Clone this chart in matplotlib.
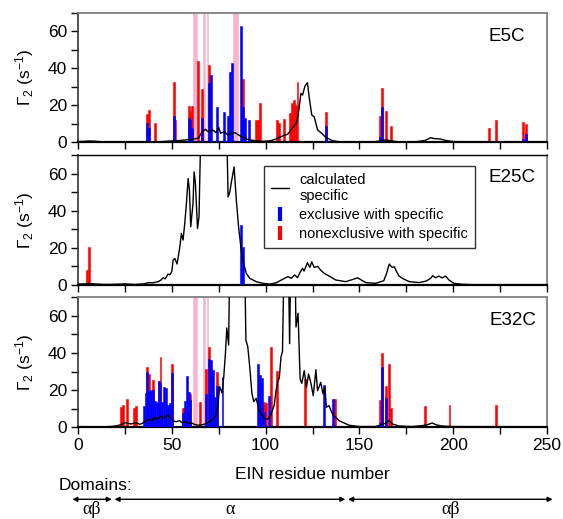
import matplotlib
matplotlib.use('Agg')
import matplotlib.pyplot as plt
from matplotlib.lines import Line2D
from matplotlib.ticker import MultipleLocator
import matplotlib.transforms as mtransforms

plt.rcParams['font.family'] = ['Liberation Sans', 'DejaVu Sans']
plt.rcParams['mathtext.default'] = 'regular'

# ---------------- data ----------------
panel_names = ['E5C', 'E25C', 'E32C']

# calculated specific Gamma2 (line)
e5c_line_res = [0, 3, 6, 9, 12, 20, 30, 40, 45, 49, 53, 57.6, 61, 63, 64.5, 65.6, 66.5, 68, 69, 70, 71.8,
                73.6, 75, 76, 78, 79.8, 81.6, 83.7, 85.5, 87.8, 90.4, 93, 98, 101, 103.7, 106.4, 109,
                111.7, 113.5, 115.2, 116.5, 117.5, 118.8, 119.7, 121, 122.3, 123.2, 124.6, 125.9, 127.7,
                130.3, 132, 135.6, 139, 150, 158, 162, 164, 166, 170, 180, 185, 188, 190, 193, 196, 200,
                210, 250]
e5c_line_val = [0.4, 0.5, 0.7, 0.6, 0.3, 0.2, 0.2, 0.2, 0.4, 0.7, 0.9, 1.3, 1.6, 2.0, 2.5, 4.9, 6.0, 7.0,
                6.0, 5.8, 6.7, 5.2, 8.1, 4.9, 5.8, 4.0, 4.9, 5.2, 4.0, 2.7, 1.6, 1.1, 0.5, 0.7, 1.1, 2.2,
                3.4, 4.3, 6.7, 8.8, 10.6, 15.6, 26.4, 25.5, 30.4, 32.2, 24.6, 14.7, 13.8, 6.7, 4.5, 2.7,
                0.9, 0.3, 0.2, 0.3, 0.9, 1.3, 1.0, 0.3, 0.3, 1.0, 2.5, 2.0, 1.8, 1.0, 0.4, 0.2, 0.2]

e25c_line_res = [0, 3, 6, 10, 15, 20, 25, 30, 35, 37.4, 40, 42.7, 44, 45.4, 46.5, 48, 49, 50, 50.7, 51.6,
                 52.8, 54.3, 55.1, 56, 56.9, 57.8, 58.7, 59.4, 60.1, 61.3, 61.9, 62.6, 63.7, 64.5, 65.8,
                 79, 80, 80.9, 81.7, 83.2, 84.4, 85.6, 87, 88.3, 89.7, 91.5, 95, 98.6, 102.2, 105.7, 108.4,
                 110.1, 111.9, 113.7, 115.5, 117, 118.5, 119.7, 120.5, 121.5, 122.3, 123.6, 124.6, 125.9,
                 127.7, 129.4, 131.2, 133.9, 137.4, 142.7, 146.5, 149, 151, 153.4, 158.7, 163, 164.5,
                 165.9, 167.4, 168.6, 169.8, 171.1, 172.9, 176.6, 181.9, 185.5, 188, 189, 190.6, 192.4,
                 194.1, 196, 197.7, 200.4, 204.8, 210, 250]
e25c_line_val = [0.5, 0.6, 0.8, 0.5, 0.3, 0.4, 0.6, 0.3, 0.6, 1.2, 1.2, 1.8, 2.5, 3.9, 3.3, 5.9, 5.5, 7.2,
                 13.4, 14.3, 11.3, 20.6, 27.8, 24.2, 33.1, 43.9, 57.3, 51.0, 31.3, 43.9, 60.9, 54.6, 30.4,
                 36.7, 100, 100, 47.4, 50.0, 55.0, 63.6, 45.6, 31.3, 18.8, 11.6, 6.3, 3.6, 1.8, 0.9, 0.5,
                 1.2, 2.7, 3.6, 4.5, 3.6, 5.4, 4.0, 7.0, 9.0, 7.5, 10.0, 12.0, 9.5, 12.5, 9.5, 10.0, 8.0,
                 6.3, 4.8, 2.7, 1.8, 3.0, 3.9, 2.7, 1.3, 0.9, 2.3, 6.3, 11.3, 9.5, 9.8, 7.2, 4.8, 3.6, 1.8,
                 1.3, 2.1, 3.6, 5.0, 3.9, 4.8, 3.8, 4.8, 2.7, 0.9, 0.4, 0.2, 0.2]

e32c_line_res = [0, 5, 10, 15, 18, 20, 22, 23, 24, 25.7, 27, 28.4, 30, 31, 32.8, 34, 35.5, 37, 38, 39.5,
                 40.8, 41.8, 42.6, 44.3, 45.5, 46.5, 47.9, 49.6, 51, 52.3, 54, 55.5, 57.6, 59, 60.5, 62,
                 63.5, 64.7, 66.5, 68.3, 70, 71.8, 73, 73.6, 74.5, 75.5, 76.8, 77.7, 78.6, 79.3, 80.3, 81,
                 88.7, 89.5, 90.5, 91.6, 92.7, 93.7, 95, 96.5, 97.5, 99.3, 101, 102.8, 104.6, 105.5, 106.4,
                 107.3, 108.2, 109, 110, 112, 112.8, 113.5, 115.5, 116.2, 117.3, 118.4, 119.3, 120.6, 121.8,
                 122.9, 124.1, 125.4, 126.8, 127.7, 129.4, 130.6, 131.6, 132.4, 133.8, 135.6, 137.4, 139.2,
                 141, 144.5, 149.8, 158.7, 164, 165.8, 167.6, 171, 178, 183.5, 186, 188.8, 191, 194, 199.5,
                 250]
e32c_line_val = [0.4, 0.3, 0.2, 0.3, 0.5, 0.7, 1.2, 1.5, 2.0, 2.5, 2.0, 1.8, 2.3, 2.5, 1.6, 2.0, 3.0, 3.8,
                 4.3, 3.6, 5.4, 4.2, 4.8, 6.1, 4.8, 5.6, 6.6, 4.8, 3.4, 3.0, 3.6, 2.5, 3.0, 2.1, 2.4, 1.6,
                 1.2, 1.2, 1.4, 2.1, 3.0, 4.3, 5.5, 7.2, 11.1, 21.9, 18.5, 27.3, 40.0, 53.5, 44.3, 100,
                 100, 47.0, 43.4, 31.8, 18.3, 13.8, 15.6, 9.0, 7.5, 4.8, 4.3, 6.6, 12.0, 19.2, 24.6, 26.4,
                 38.0, 40.8, 100, 100, 45.0, 100, 100, 54.0, 61.4, 26.0, 23.7, 30.5, 21.5, 28.7, 24.0, 17.0,
                 31.0, 19.7, 24.2, 18.0, 21.5, 10.8, 11.7, 7.2, 5.4, 3.6, 2.7, 1.1, 0.4, 0.4, 2.2, 3.6, 1.8,
                 0.7, 0.4, 0.9, 1.3, 2.3, 1.3, 0.7, 0.4, 0.3]

# measured bars: residue, nonexclusive (red) and exclusive (blue) Gamma2
e5c_bar_res = [37, 38, 41, 51, 52, 59, 60, 61, 64, 66, 70, 71, 74, 78, 80, 81, 82, 87, 88, 89, 91, 95, 96,
               97, 106, 107, 110, 113, 114, 115, 116, 117, 132, 161, 162, 164, 167, 219, 223, 237, 239]
e5c_nonexcl = [15.3, 17.6, 10.4, 32.8, 12.2, 19.6, 17.1, 19.6, 43.9, 28.8, 41.7, 0, 0, 0, 0, 0, 0, 0, 34.2,
               0, 0, 12.2, 12.2, 21.2, 12.2, 10.4, 12.6, 16.0, 21.4, 23.0, 20.1, 32.6, 16.5, 14.4, 29.5,
               17.1, 9.0, 7.9, 12.2, 11.2, 10.1]
e5c_excl = [10.3, 7.9, 0, 14.2, 0, 13.3, 12.2, 7.9, 0, 13.3, 31.8, 36.3, 19.0, 16.2, 14.2, 38.1, 43.0, 62.8,
            19.1, 13.1, 12.2, 0, 0, 0, 0, 0, 0, 0, 0, 0, 0, 0, 9.0, 3.0, 19.2, 0, 0, 0, 0, 2.0, 4.7]

e25c_bar_res = [5, 6, 87, 88]
e25c_nonexcl = [8.1, 20.4, 0, 0]
e25c_excl = [0, 0, 32.2, 20.4]

e32c_bar_res = [23, 24, 26, 30, 31, 35, 36, 37, 38, 39, 40, 41, 42, 43, 44, 45, 46, 47, 48, 49, 50, 56, 57,
                58, 59, 60, 65, 68, 70, 71, 72, 73, 74, 77, 96, 97, 98, 99, 100, 102, 103, 106, 121, 131,
                136, 137, 161, 162, 164, 166, 167, 185, 198, 223]
e32c_nonexcl = [11.1, 12.0, 15.5, 10.4, 11.6, 0, 0, 32.7, 28.5, 0, 25.5, 0, 0, 25.1, 38.0, 0, 0, 0, 0, 0,
                34.1, 10.6, 0, 0, 0, 18.0, 13.8, 31.4, 43.0, 0, 0, 0, 30.0, 0, 0, 0, 0, 13.5, 13.0, 0,
                43.2, 30.3, 26.0, 0, 0, 15.0, 14.9, 40.2, 22.4, 34.1, 10.2, 11.7, 12.2, 12.2]
e32c_excl = [0, 0, 0, 0, 0, 11.5, 18.5, 30.0, 19.5, 20.0, 20.0, 14.0, 13.8, 25.0, 23.7, 13.8, 21.9, 21.2,
             12.0, 12.9, 29.0, 7.5, 14.2, 27.6, 19.0, 14.7, 0, 17.8, 37.0, 36.0, 31.0, 16.5, 22.0, 27.0,
             34.0, 28.0, 26.5, 8.4, 0, 16.9, 0, 0, 0, 22.6, 15.0, 0, 2.3, 32.7, 15.8, 0, 0, 0, 0, 0]

# residues shaded pink
e5c_pink = [62, 63, 67, 69, 83, 84, 85]
e25c_pink = []
e32c_pink = [62, 63, 67, 69]

# domains along the sequence
domain_start = [-3, 19.5, 144]
domain_end = [18, 142.5, 253]
domain_label = ['αβ', 'α', 'αβ']

legend_labels = ['calculated\nspecific', 'exclusive with specific', 'nonexclusive with specific']

# ---------------- figure ----------------
W, H = 563, 519
fig = plt.figure(figsize=(W / 100, H / 100), dpi=100)

left = 78 / W
width = (547 - 78) / W
panel_px = [(12.7, 142.3), (155.0, 285.0), (297.3, 427.3)]

lines = [(e5c_line_res, e5c_line_val), (e25c_line_res, e25c_line_val), (e32c_line_res, e32c_line_val)]
bars = [(e5c_bar_res, e5c_nonexcl, e5c_excl), (e25c_bar_res, e25c_nonexcl, e25c_excl),
        (e32c_bar_res, e32c_nonexcl, e32c_excl)]
pinks = [e5c_pink, e25c_pink, e32c_pink]
label_pos = [(525, 40.7), (536, 181.7), (536, 325.0)]

RED = '#ff0000'
BLUE = '#0000ff'
PINK = '#f6b3cd'
FS = 12.5

axes = []
for i, (top, bot) in enumerate(panel_px):
    ax = fig.add_axes([left, 1 - bot / H, width, (bot - top) / H])
    axes.append(ax)
    for r in pinks[i]:
        ax.axvspan(r - 0.5, r + 0.5, facecolor=PINK, edgecolor=PINK, lw=0.4, zorder=1)
    br, red, blue = bars[i]
    ax.bar(br, red, width=1.0, color=RED, edgecolor=RED, lw=0.4, zorder=2)
    ax.bar(br, blue, width=1.0, color=BLUE, edgecolor=BLUE, lw=0.4, zorder=3)
    lr, lv = lines[i]
    ax.plot(lr, lv, color='black', lw=1.0, zorder=4)
    ax.set_xlim(0, 250)
    ax.set_ylim(0, 70)
    ax.xaxis.set_major_locator(MultipleLocator(50))
    ax.xaxis.set_minor_locator(MultipleLocator(25))
    ax.yaxis.set_major_locator(MultipleLocator(20))
    ax.yaxis.set_minor_locator(MultipleLocator(10))
    ax.tick_params(which='both', direction='out', length=5, width=1.0, labelsize=FS, pad=3,
                   top=False, right=False)
    if i < 2:
        ax.tick_params(labelbottom=False)
    ax.spines['top'].set_color('#808080')
    ax.spines['right'].set_color('#808080')
    ax.spines['top'].set_linewidth(1.3)
    ax.spines['right'].set_linewidth(1.3)
    ax.spines['left'].set_color('#333333')
    ax.spines['left'].set_linewidth(1.2)
    ax.spines['bottom'].set_linewidth(1.6)
    ax.set_ylabel('Γ$_2$ (s$^{-1}$)', fontsize=FS)
    ax.yaxis.set_label_coords(-0.09, 0.5)
    lx, ly = label_pos[i]
    ax.text((lx - 78) / 469, (bot - ly) / (bot - top), panel_names[i], transform=ax.transAxes,
            ha='right', va='baseline', fontsize=13.5)

axes[1].spines['top'].set_color('black')
axes[1].spines['top'].set_linewidth(1.0)

# legend
handles = [Line2D([], [], color='black', lw=1.0),
           Line2D([], [], color=BLUE, marker='|', ls='none', markersize=10, markeredgewidth=3),
           Line2D([], [], color=RED, marker='|', ls='none', markersize=10, markeredgewidth=3)]
leg = axes[1].legend(handles, legend_labels, loc='upper left', bbox_to_anchor=(0.397, 0.915),
                     fontsize=10.5, frameon=True, fancybox=False, edgecolor='black',
                     handlelength=1.25, handletextpad=0.7, borderpad=0.45, labelspacing=0.35,
                     borderaxespad=0)
leg.get_frame().set_linewidth(1.0)

# x label
fig.text(312.5 / W, 1 - 479 / H, 'EIN residue number', ha='center', va='baseline', fontsize=FS)

# domains
fig.text(59 / W, 1 - 490 / H, 'Domains:', ha='left', va='baseline', fontsize=FS)
trans = mtransforms.blended_transform_factory(axes[2].transData, fig.transFigure)
ya = 1 - 499.3 / H
for s, e, lab in zip(domain_start, domain_end, domain_label):
    axes[2].annotate('', xy=(e, ya), xytext=(s, ya), xycoords=trans, textcoords=trans,
                     arrowprops=dict(arrowstyle='<|-|>', color='black', lw=1.0, mutation_scale=7,
                                     shrinkA=0, shrinkB=0), annotation_clip=False)
    axes[2].text((s + e) / 2, 1 - 514.5 / H, lab, transform=trans, ha='center', va='baseline',
                 fontsize=13, family=['Liberation Serif', 'DejaVu Serif'])

fig.savefig('out.png', dpi=100)
